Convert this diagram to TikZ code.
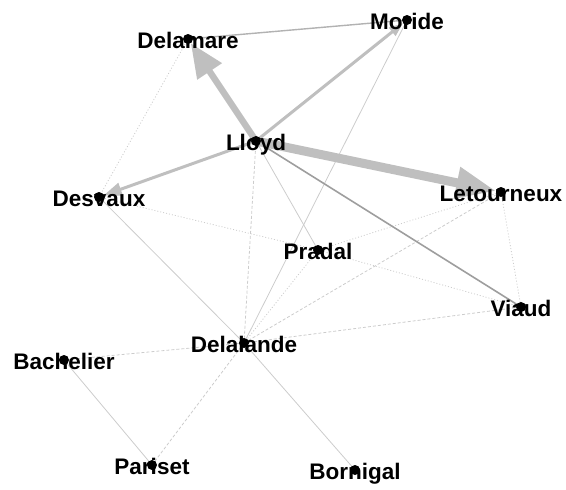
\documentclass[tikz,border=0pt]{standalone}
\usepackage{fontspec}
\setmainfont{Liberation Sans}
\usepackage{tikz}
\usetikzlibrary{arrows.meta, backgrounds}

\begin{document}
\begin{tikzpicture}[
    x=1pt, y=-1pt,
    actor/.style={
        font=\fontsize{22.5}{22.5}\selectfont\bfseries,
        inner sep=0pt,
        text height=18pt,
        text depth=0pt
    },
    tie/.style={draw=black!20, line width=0.8pt},
    tiedot/.style={tie, dash pattern=on 1pt off 2pt},
    tiedash/.style={tie, dash pattern=on 3pt off 2pt},
    strong/.style={draw=black!38, line width=1.6pt},
    flow/.style={draw=black!25, shorten >=5pt}
]
\useasboundingbox (0,0) rectangle (566,490);

% Actors
\node (moride) [actor] at (407,20) {Moride};
\node (delamare) [actor] at (188,39) {Delamare};
\node (lloyd) [actor] at (256,141) {Lloyd};
\node (desvaux) [actor] at (99,197) {Desvaux};
\node (letourneux) [actor] at (501,192) {Letourneux};
\node (pradal) [actor] at (318,250) {Pradal};
\node (viaud) [actor] at (521,307) {Viaud};
\node (delalande) [actor] at (244,343) {Delalande};
\node (bachelier) [actor] at (64,360) {Bachelier};
\node (pariset) [actor] at (152,465) {Pariset};
\node (bornigal) [actor] at (355,470) {Bornigal};

\foreach \n in {moride, delamare, lloyd, desvaux, letourneux, pradal,
    viaud, delalande, bachelier, pariset, bornigal}
    \fill (\n.center) circle (5);

\begin{scope}[on background layer]
% Weak ties
\draw[tiedot] (delamare.center) -- (desvaux.center);
\draw[tiedot] (desvaux.center) -- (pradal.center);
\draw[tiedot] (pradal.center) -- (viaud.center);
\draw[tiedot] (pradal.center) -- (letourneux.center);
\draw[tiedot] (letourneux.center) -- (viaud.center);
\draw[tiedot] (delalande.center) -- (pradal.center);
\draw[tie] (lloyd.center) -- (pradal.center);
\draw[tiedash] (lloyd.center) -- (delalande.center);
\draw[tie] (moride.center) -- (delalande.center);
\draw[tiedash] (delalande.center) -- (letourneux.center);
\draw[tiedash] (delalande.center) -- (viaud.center);
\draw[tie] (desvaux.center) -- (delalande.center);
\draw[tiedash] (delalande.center) -- (bachelier.center);
\draw[tiedash] (delalande.center) -- (pariset.center);
\draw[tie] (delalande.center) -- (bornigal.center);
\draw[tie] (bachelier.center) -- (pariset.center);

% Stronger ties
\draw[strong] (lloyd.center) -- (viaud.center);
\draw[strong, draw=black!30, line width=1.4pt] (delamare.center) -- (moride.center);

% Flows out of Lloyd
\draw[flow, line width=6.5pt, -{Triangle[length=34pt, width=28pt]}]
    (lloyd.center) -- (delamare.center);
\draw[flow, line width=9pt, -{Triangle[length=40pt, width=30pt]}]
    (lloyd.center) -- (letourneux.center);
\draw[flow, line width=3pt, -{Triangle[length=18pt, width=13pt]}]
    (lloyd.center) -- (desvaux.center);
\draw[flow, line width=3pt, -{Triangle[length=14pt, width=10pt]}]
    (lloyd.center) -- (moride.center);
\end{scope}

\end{tikzpicture}
\end{document}
